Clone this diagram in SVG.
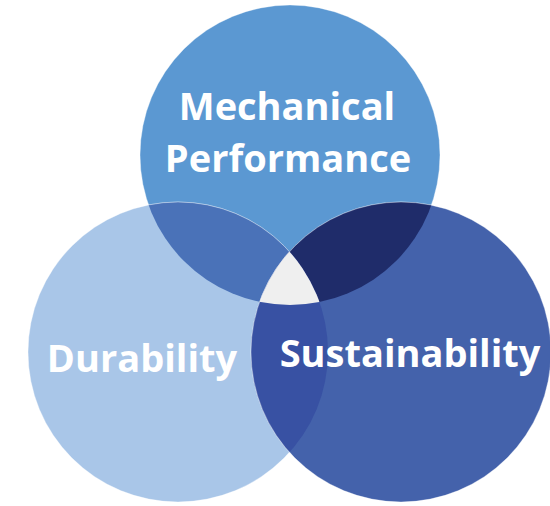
<svg xmlns="http://www.w3.org/2000/svg" width="550" height="506" viewBox="0 0 550 506">
  <defs>
    <clipPath id="clip-top"><circle cx="290" cy="155" r="150"/></clipPath>
    <clipPath id="clip-left"><circle cx="178" cy="352" r="150"/></clipPath>
    <clipPath id="clip-right"><circle cx="401" cy="352" r="150"/></clipPath>
    <style>
      .ring { stroke: #ffffff; stroke-opacity: 0.35; stroke-width: 1; }
      .label { font-family: "Open Sans", "Noto Sans", "DejaVu Sans", sans-serif; font-weight: 700; font-size: 38px; fill: #ffffff; text-anchor: middle; }
    </style>
  </defs>
  <rect width="550" height="506" fill="#ffffff"/>

  <g id="mechanical-performance">
    <circle class="ring" cx="290" cy="155" r="150" fill="#5B98D2"/>
  </g>
  <g id="durability">
    <circle class="ring" cx="178" cy="352" r="150" fill="#A9C6E8"/>
  </g>
  <g id="sustainability">
    <circle class="ring" cx="401" cy="352" r="150" fill="#4462AB"/>
  </g>

  <!-- pairwise overlaps -->
  <g id="overlap-top-left" clip-path="url(#clip-top)">
    <circle class="ring" cx="178" cy="352" r="150" fill="#4A72B8"/>
  </g>
  <g id="overlap-top-right" clip-path="url(#clip-top)">
    <circle class="ring" cx="401" cy="352" r="150" fill="#1F2C6A"/>
  </g>
  <g id="overlap-left-right" clip-path="url(#clip-left)">
    <circle class="ring" cx="401" cy="352" r="150" fill="#3851A3"/>
  </g>
  <!-- centre where all three meet -->
  <g id="overlap-all" clip-path="url(#clip-top)">
    <g clip-path="url(#clip-left)">
      <circle class="ring" cx="401" cy="352" r="150" fill="#EFEFEF"/>
    </g>
  </g>

  <g id="labels">
    <text class="label" x="287" y="120">Mechanical</text>
    <text class="label" x="288" y="172">Performance</text>
    <text class="label" x="142" y="372">Durability</text>
    <text class="label" x="410" y="367">Sustainability</text>
  </g>
</svg>
